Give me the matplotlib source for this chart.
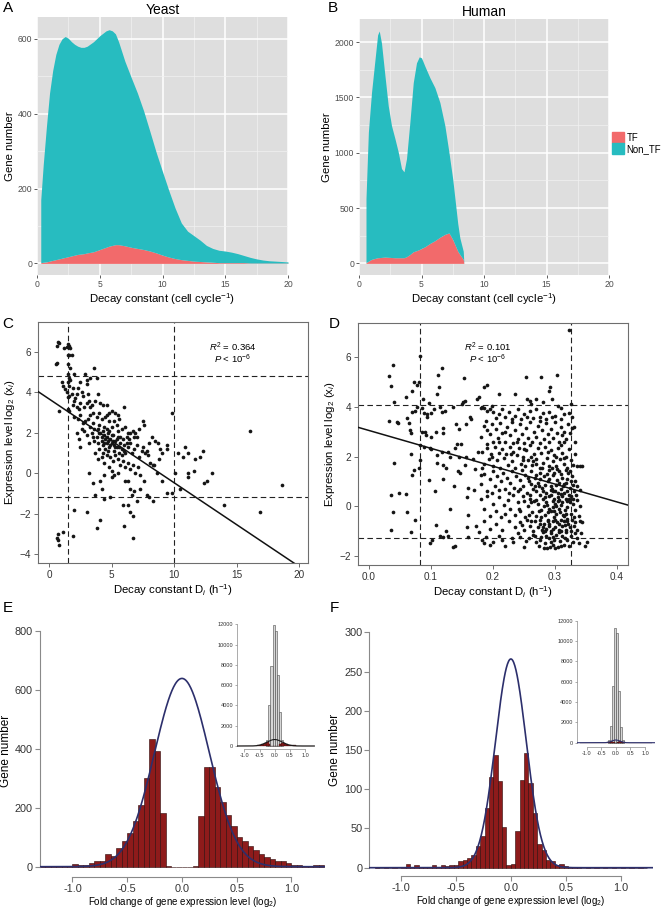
import numpy as np
import matplotlib
matplotlib.use("Agg")
import matplotlib.pyplot as plt
from matplotlib.patches import Patch

plt.rcParams['font.family'] = ['Liberation Sans', 'DejaVu Sans']
plt.rcParams['mathtext.fontset'] = 'custom'
plt.rcParams['mathtext.rm'] = 'Liberation Sans'
plt.rcParams['mathtext.it'] = 'Liberation Sans:italic'

W, H = 663, 908
TEAL = '#27BCC0'
RED = '#F26A6B'
PANEL = '#DEDEDE'
BAR_RED = '#8E1B1B'
NAVY = '#2C2F6C'

# ---------------- A / B : stacked densities ----------------
yeast_x = [0.3, 0.5, 0.75, 1.0, 1.25, 1.5, 1.75, 2.0, 2.25, 2.5, 2.75, 3.0, 3.25, 3.5, 3.75, 4.0,
           4.5, 5.0, 5.5, 5.75, 6.0, 6.25, 6.5, 7.0, 7.5, 8.0, 8.5, 9.0, 9.5, 10.0, 10.5, 11.0,
           11.5, 12.0, 12.5, 13.0, 13.5, 14.0, 14.5, 15.0, 15.5, 16.0, 16.5, 17.0, 17.5, 18.0,
           18.5, 19.0, 19.5, 20.0]
yeast_total = [170, 265, 365, 455, 515, 558, 585, 600, 606, 601, 592, 585, 580, 577, 577, 580,
               592, 608, 621, 624, 621, 613, 592, 540, 497, 455, 407, 352, 296, 245, 195, 148,
               108, 86, 74, 62, 48, 40, 35, 33, 30, 26, 21, 16, 12, 9, 7, 6, 5, 4]
yeast_tf = [2, 3, 4, 6, 8, 10, 12, 14, 16, 18, 20, 22, 24, 25, 26, 28,
            31, 37, 43, 46, 48, 50, 50, 47, 43, 40, 37, 33, 28, 22, 17, 13,
            10, 8, 6, 5, 4, 3, 2, 2, 2, 2, 2, 1, 1, 1, 1, 1, 1, 1]

human_x = [0.56, 0.75, 1.0, 1.28, 1.49, 1.62, 1.8, 2.08, 2.34, 2.6, 2.88, 3.14, 3.4, 3.6, 3.8,
           4.07, 4.34, 4.6, 4.82, 5.0, 5.27, 5.67, 6.07, 6.47, 6.87, 7.2, 7.5, 7.9, 8.07, 8.34, 8.39]
human_total = [587, 1185, 1543, 1842, 2065, 2100, 1990, 1692, 1424, 1245, 1125, 1006, 857, 827, 946,
               1275, 1633, 1812, 1866, 1857, 1782, 1678, 1588, 1454, 1245, 1000, 760, 360, 230, 110, 0]
human_tf = [6, 20, 36, 45, 51, 52, 54, 57, 55, 53, 51, 51, 51, 51, 60,
            80, 105, 115, 125, 135, 150, 180, 205, 236, 262, 275, 215, 110, 80, 36, 0]

# ---------------- C / D : scatter ----------------
c_points = [
    (0.6, 6.3), (0.7, 6.5), (0.8, 6.45), (0.55, 5.4), (0.6, 5.45), (1.2, 6.2), (1.4, 6.25), (1.5, 6.4),
    (1.6, 6.3), (1.7, 6.2), (1.5, 5.85), (1.6, 5.85), (1.8, 5.85), (1.5, 5.4), (1.7, 5.2), (1.5, 4.9),
    (1.6, 4.7), (1.7, 4.6), (1.5, 4.5), (1.6, 4.3), (1.0, 4.5), (1.1, 4.3), (1.3, 4.15), (1.4, 4.0),
    (1.6, 3.8), (1.5, 3.75), (1.8, 3.9), (1.9, 4.2), (0.8, 3.1), (1.5, 3.2), (1.6, 3.1), (1.9, 3.4),
    (2.0, 3.6), (2.1, 3.7), (2.2, 3.9), (2.3, 4.2), (2.5, 4.5), (2.6, 4.0), (2.9, 4.9), (3.0, 4.4),
    (3.0, 4.6), (3.6, 5.2), (3.8, 4.7), (3.3, 4.7), (2.0, 4.9), (2.2, 3.3), (2.4, 3.2), (2.5, 3.5),
    (2.7, 3.8), (2.8, 3.3), (3.0, 3.5), (3.1, 3.9), (3.2, 3.6), (3.4, 3.4), (3.5, 3.0), (3.7, 3.6),
    (3.9, 3.9), (4.1, 3.5), (4.3, 3.4), (4.6, 3.4), (4.8, 3.0), (5.0, 3.1), (5.3, 3.0), (5.5, 2.9),
    (6.0, 3.3), (2.0, 2.8), (2.3, 2.7), (2.5, 2.9), (2.7, 2.5), (2.9, 2.6), (3.1, 2.7), (3.3, 2.9),
    (3.5, 2.5), (3.6, 2.2), (3.8, 2.8), (4.0, 2.4), (4.2, 2.7), (4.4, 2.3), (4.6, 2.9), (4.8, 2.6),
    (5.0, 2.3), (5.2, 2.6), (5.4, 2.4), (5.6, 2.7), (5.8, 2.2), (6.1, 2.3), (6.3, 2.0), (2.2, 2.0),
    (2.4, 1.7), (2.5, 1.3), (2.6, 2.2), (2.8, 2.1), (3.0, 1.9), (3.2, 1.5), (3.4, 2.0), (3.6, 1.6),
    (3.8, 1.8), (3.9, 1.5), (4.0, 1.2), (4.1, 2.0), (4.2, 1.6), (4.3, 1.4), (4.4, 1.9), (4.5, 1.7),
    (4.5, 1.2), (4.6, 1.5), (4.7, 2.0), (4.8, 1.3), (4.9, 1.7), (5.0, 1.5), (5.1, 1.9), (5.2, 1.1),
    (5.3, 1.6), (5.4, 1.3), (5.5, 1.8), (5.6, 1.0), (5.7, 1.5), (5.8, 1.2), (5.9, 1.7), (6.0, 1.4),
    (6.1, 1.0), (6.2, 1.8), (6.3, 1.3), (6.5, 1.5), (6.6, 1.0), (6.8, 1.2), (7.0, 1.4), (7.2, 0.8),
    (7.4, 1.1), (7.5, 1.3), (7.7, 1.0), (7.9, 0.9), (8.1, 0.5), (8.3, 0.4), (8.2, 1.8), (8.5, 1.6),
    (7.5, 2.6), (7.6, 2.4), (7.2, 2.2), (6.9, 2.0), (6.7, 2.1), (6.5, 2.0), (6.8, 1.8), (3.7, 1.0),
    (3.9, 0.7), (4.2, 0.8), (4.4, 0.5), (4.6, 0.9), (4.9, 0.8), (5.1, 0.6), (5.3, 0.9), (5.5, 0.7),
    (5.7, 0.4), (5.9, 0.6), (6.1, 0.3), (6.3, 0.5), (6.5, 0.2), (6.7, 0.4), (6.9, 0.0), (7.1, 0.3),
    (7.3, -0.1), (5.0, 0.1), (5.2, -0.1), (5.5, 0.0), (3.2, 0.0), (3.5, -0.5), (4.1, -0.4), (4.4, -0.1),
    (4.8, 0.3), (5.0, -0.2), (6.3, -0.4), (6.5, -0.8), (6.6, -1.1), (6.8, -0.9), (7.0, -1.4), (7.3, -0.8),
    (7.6, -0.4), (7.8, -1.1), (8.0, -1.2), (8.3, -1.4), (6.1, -0.4), (6.3, -1.6), (6.5, -1.9), (6.7, -2.1),
    (6.7, -3.2), (6.0, -2.6), (4.1, -2.3), (3.8, -2.7), (3.0, -1.9), (2.0, -1.8), (1.9, -3.1), (1.1, -2.9),
    (0.6, -3.2), (0.7, -3.0), (0.75, -3.3), (0.8, -3.55), (3.7, -1.1), (4.4, -1.3), (4.2, -0.8), (4.9, -1.2),
    (5.9, -1.6), (9.0, -0.4), (9.4, -1.0), (9.8, -1.0), (9.4, 1.4), (9.4, 1.2), (9.8, 3.0), (10.1, 0.0),
    (10.3, 1.0), (10.5, -0.8), (10.7, 0.8), (10.9, 1.3), (11.1, 1.0), (11.1, 0.0), (11.1, -0.2), (11.6, 0.1),
    (11.7, 0.7), (12.1, 0.8), (12.3, 1.1), (12.4, -0.5), (12.6, -0.4), (13.0, 0.0), (14.0, -1.6), (16.1, 2.1),
    (16.9, -1.9), (18.6, -0.6), (8.4, 0.4), (8.6, 0.0), (8.8, 0.7), (9.0, 1.0), (8.7, 1.5), (8.9, 1.2),
    (8.0, 1.5), (7.8, 1.1), (3.3, 3.3), (4.0, 3.0), (4.5, 2.8), (4.0, 2.0), (4.3, 1.0), (5.8, 0.9),
    (6.0, 1.1), (4.7, 1.1), (5.3, 1.3), (4.6, 2.2), (5.0, 1.9), (5.5, 2.1), (6.2, 1.5), (7.0, 1.8),
    (4.2, 1.8), (4.6, 1.8), (4.9, 1.4), (5.1, 1.6), (5.4, 1.7), (4.4, 1.5), (4.7, 1.6), (5.2, 1.4),
    (4.3, 2.1), (4.8, 2.1), (5.7, 1.8), (3.9, 2.2), (3.5, 1.8), (5.6, 1.3), (6.4, 1.7), (3.3, 2.3),
]
c_x = [p[0] for p in c_points]
c_y = [p[1] for p in c_points]
c_slope, c_intercept = -0.415, 3.68
c_vlines = [1.5, 10.0]
c_hlines = [4.8, -1.2]

d_points = [
    # sparse left part
    (0.033, 5.25), (0.035, 4.85), (0.038, 5.7), (0.04, 4.2), (0.032, 3.45), (0.045, 3.4), (0.046, 3.35),
    (0.04, 1.75), (0.035, 0.45), (0.048, 0.55), (0.06, 0.5), (0.038, -0.25), (0.062, -0.25), (0.035, -0.95),
    (0.068, -1.05), (0.07, 1.25), (0.068, 2.1), (0.072, 1.45), (0.075, -0.55), (0.06, 4.4), (0.062, 3.55),
    (0.065, 3.35), (0.066, 3.05), (0.068, 2.95), (0.069, 3.8), (0.07, 4.65), (0.072, 5.0), (0.078, 4.9),
    (0.08, 5.0), (0.082, 6.05), (0.075, 3.85), (0.078, 4.0), (0.085, 3.95), (0.087, 4.3), (0.085, 3.0),
    (0.088, 2.4), (0.082, 2.45), (0.083, 1.85), (0.081, 1.55), (0.09, 3.0), (0.092, 2.85), (0.094, 3.7),
    (0.096, 4.15), (0.1, 3.75), (0.1, 2.3), (0.098, 2.35), (0.097, 1.05), (0.102, -1.35), (0.098, -1.5),
    (0.106, 0.6), (0.109, 1.75), (0.11, 2.05), (0.108, 3.0), (0.105, 3.9), (0.11, 4.5), (0.112, 5.3),
    (0.113, 4.8), (0.117, 5.55), (0.115, 4.0), (0.118, 3.8), (0.12, 3.15), (0.122, 3.85), (0.12, 2.95),
    (0.119, 1.65), (0.117, 2.2), (0.125, 1.55), (0.128, 2.2), (0.13, 2.0), (0.13, -0.1), (0.125, -1.0),
    (0.12, -1.25), (0.127, -1.2), (0.108, -0.75), (0.115, -1.2), (0.135, 4.0), (0.14, 3.3), (0.138, 2.35),
    (0.142, 2.5), (0.145, 3.1), (0.144, 1.4), (0.147, 1.35), (0.137, 0.8), (0.136, -1.65), (0.139, -1.6),
    (0.148, 2.5), (0.15, 4.1), (0.152, 4.2), (0.153, 5.15), (0.155, 4.25), (0.156, 2.0), (0.157, 3.3),
    (0.16, 0.75), (0.158, 0.35), (0.159, -0.35), (0.158, -0.85), (0.16, -1.25), (0.163, 3.6), (0.165, 3.5),
    (0.168, 1.9), (0.17, 0.65), (0.172, -0.8), (0.174, 4.3), (0.177, 4.4), (0.18, 3.95), (0.183, 4.0),
    (0.185, 4.8), (0.18, 1.25), (0.182, 1.55), (0.178, -1.05), (0.185, -1.5), (0.183, -1.35), (0.12, 1.1),
    (0.1, 2.8), (0.145, 2.0), (0.155, 1.65), (0.171, 1.5), (0.176, 2.2), (0.088, 3.75), (0.093, 3.6),
    # dense right part, y > 3.5
    (0.253, 5.2), (0.278, 5.2), (0.303, 5.3), (0.292, 4.8), (0.19, 4.9), (0.21, 4.5), (0.235, 4.5),
    (0.323, 7.1), (0.29, 4.65), (0.325, 4.1), (0.27, 4.3), (0.28, 4.2), (0.26, 4.25), (0.255, 4.3),
    (0.295, 4.3), (0.185, 3.95), (0.19, 3.85), (0.195, 3.9), (0.2, 3.8), (0.205, 3.55), (0.21, 3.7),
    (0.215, 3.9), (0.22, 3.6), (0.225, 3.8), (0.23, 3.5), (0.235, 3.65), (0.24, 3.9), (0.245, 3.5),
    (0.25, 3.7), (0.255, 3.6), (0.26, 3.85), (0.265, 3.55), (0.27, 3.9), (0.275, 3.6), (0.28, 3.75),
    (0.285, 3.5), (0.29, 3.8), (0.295, 3.6), (0.3, 3.65), (0.31, 3.5), (0.315, 3.7), (0.322, 3.75),
    (0.328, 3.6), (0.198, 4.05), (0.262, 4.1), (0.305, 4.05), (0.31, 3.95),
    # 2.5 .. 3.5
    (0.18, 2.8), (0.185, 3.25), (0.19, 3.05), (0.195, 2.9), (0.198, 3.3), (0.2, 2.6), (0.205, 3.1),
    (0.208, 2.75), (0.212, 3.35), (0.215, 2.95), (0.22, 2.6), (0.222, 3.2), (0.227, 2.85), (0.23, 3.4),
    (0.232, 2.55), (0.236, 3.05), (0.24, 2.7), (0.243, 3.3), (0.247, 2.9), (0.25, 2.55), (0.253, 3.15),
    (0.257, 2.75), (0.26, 3.4), (0.263, 2.6), (0.266, 3.0), (0.27, 2.8), (0.273, 3.25), (0.276, 2.55),
    (0.279, 3.05), (0.282, 2.7), (0.285, 3.35), (0.288, 2.9), (0.291, 2.6), (0.294, 3.1), (0.297, 2.75),
    (0.3, 3.4), (0.303, 2.95), (0.306, 2.6), (0.309, 3.2), (0.312, 2.85), (0.315, 3.0), (0.318, 2.7),
    (0.321, 3.3), (0.324, 2.95), (0.327, 3.15), (0.33, 3.2), (0.333, 2.6), (0.19, 2.5), (0.275, 3.45),
    # 1.5 .. 2.5
    (0.182, 2.2), (0.186, 1.7), (0.19, 2.35), (0.194, 1.9), (0.197, 2.1), (0.2, 1.6), (0.203, 2.4),
    (0.206, 1.85), (0.209, 2.15), (0.212, 1.55), (0.215, 2.3), (0.218, 1.95), (0.221, 2.1), (0.224, 1.65),
    (0.227, 2.4), (0.23, 1.8), (0.233, 2.2), (0.236, 1.55), (0.239, 2.05), (0.242, 2.35), (0.245, 1.7),
    (0.248, 2.0), (0.251, 1.6), (0.254, 2.25), (0.257, 1.85), (0.26, 2.45), (0.263, 1.65), (0.266, 2.1),
    (0.269, 1.9), (0.272, 2.35), (0.275, 1.55), (0.278, 2.15), (0.281, 1.75), (0.284, 2.4), (0.287, 1.95),
    (0.29, 1.6), (0.293, 2.25), (0.296, 1.8), (0.299, 2.05), (0.302, 1.6), (0.305, 2.35), (0.308, 1.9),
    (0.311, 2.15), (0.314, 1.7), (0.317, 2.0), (0.32, 1.55), (0.323, 2.3), (0.326, 1.85), (0.329, 1.65),
    (0.332, 2.1), (0.336, 1.6), (0.341, 1.6), (0.262, 2.0), (0.288, 2.2), (0.295, 1.55), (0.302, 2.0),
    (0.27, 1.7), (0.31, 2.45), (0.25, 2.3), (0.315, 1.95),
    # 0.5 .. 1.5
    (0.18, 0.9), (0.185, 1.3), (0.19, 0.6), (0.195, 1.1), (0.198, 0.55), (0.2, 1.4), (0.204, 0.8),
    (0.207, 1.2), (0.21, 0.65), (0.213, 1.0), (0.216, 1.35), (0.219, 0.7), (0.222, 1.15), (0.225, 0.55),
    (0.228, 0.95), (0.231, 1.4), (0.234, 0.75), (0.237, 1.2), (0.24, 0.6), (0.243, 1.05), (0.246, 1.45),
    (0.249, 0.8), (0.252, 1.25), (0.255, 0.55), (0.258, 1.0), (0.261, 1.4), (0.264, 0.7), (0.267, 1.15),
    (0.27, 0.6), (0.273, 0.95), (0.276, 1.35), (0.279, 0.75), (0.282, 1.2), (0.285, 0.55), (0.288, 1.0),
    (0.291, 1.45), (0.294, 0.8), (0.297, 1.25), (0.3, 0.6), (0.303, 1.05), (0.306, 1.4), (0.309, 0.7),
    (0.312, 1.15), (0.315, 0.55), (0.318, 0.95), (0.321, 1.35), (0.324, 0.75), (0.327, 1.2), (0.33, 0.6),
    (0.333, 1.0), (0.336, 0.8), (0.34, 0.65), (0.343, 1.6), (0.262, 0.9), (0.275, 1.1), (0.284, 0.85),
    (0.29, 1.1), (0.296, 0.6), (0.302, 0.85), (0.307, 0.95), (0.313, 0.8), (0.319, 0.6), (0.325, 1.0),
    (0.268, 0.8), (0.28, 0.6), (0.299, 1.35), (0.31, 1.3), (0.32, 1.1), (0.244, 0.7), (0.256, 1.15),
    (0.287, 1.3), (0.293, 0.65), (0.305, 0.55), (0.317, 1.45), (0.329, 0.85),
    # -0.5 .. 0.5
    (0.18, 0.3), (0.185, -0.1), (0.19, 0.4), (0.195, -0.4), (0.2, 0.1), (0.205, -0.2), (0.21, 0.35),
    (0.213, -0.45), (0.217, 0.05), (0.22, -0.3), (0.224, 0.25), (0.228, -0.1), (0.232, 0.45), (0.236, -0.35),
    (0.24, 0.15), (0.244, -0.2), (0.248, 0.4), (0.252, -0.45), (0.256, 0.0), (0.26, 0.3), (0.263, -0.25),
    (0.266, 0.2), (0.269, -0.4), (0.272, 0.1), (0.275, 0.45), (0.278, -0.15), (0.281, 0.3), (0.284, -0.35),
    (0.287, 0.05), (0.29, 0.4), (0.293, -0.2), (0.296, 0.2), (0.299, -0.45), (0.302, 0.0), (0.305, 0.35),
    (0.308, -0.25), (0.311, 0.15), (0.314, -0.4), (0.317, 0.3), (0.32, -0.05), (0.323, 0.45), (0.326, -0.3),
    (0.329, 0.1), (0.332, -0.15), (0.335, 0.25), (0.338, -0.4), (0.341, 0.0), (0.27, 0.25), (0.282, 0.0),
    (0.288, -0.25), (0.294, 0.45), (0.3, 0.1), (0.306, -0.1), (0.312, 0.4), (0.318, -0.3), (0.324, 0.15),
    (0.33, -0.45), (0.296, -0.05), (0.284, 0.35), (0.278, -0.45), (0.31, 0.05), (0.316, -0.15), (0.322, 0.3),
    (0.298, 0.3), (0.302, -0.3), (0.29, -0.1), (0.274, -0.2), (0.262, 0.15), (0.258, -0.35), (0.25, 0.2),
    (0.242, -0.1), (0.307, 0.25), (0.313, -0.35), (0.319, 0.2),
    # -1.0 .. -0.5
    (0.185, -0.6), (0.195, -0.9), (0.205, -0.7), (0.215, -0.95), (0.225, -0.6), (0.235, -0.85), (0.243, -0.65),
    (0.25, -0.95), (0.255, -0.55), (0.26, -0.8), (0.265, -1.0), (0.268, -0.6), (0.272, -0.85), (0.276, -0.55),
    (0.279, -0.95), (0.282, -0.7), (0.285, -0.9), (0.288, -0.55), (0.291, -0.8), (0.294, -1.0), (0.297, -0.6),
    (0.3, -0.85), (0.303, -0.65), (0.306, -0.95), (0.309, -0.55), (0.312, -0.8), (0.315, -0.6), (0.318, -0.95),
    (0.321, -0.7), (0.324, -0.85), (0.327, -0.55), (0.33, -0.8), (0.333, -0.65), (0.336, -0.95), (0.34, -0.6),
    (0.343, -0.65), (0.29, -0.7), (0.3, -0.55), (0.31, -1.0), (0.32, -0.5), (0.28, -0.85), (0.296, -0.9),
    (0.306, -0.7), (0.316, -0.75), (0.326, -1.0), (0.275, -0.7), (0.262, -0.6), (0.246, -0.75),
    # -1.7 .. -1.0
    (0.188, -1.25), (0.2, -1.45), (0.21, -1.2), (0.22, -1.6), (0.23, -1.3), (0.24, -1.1), (0.25, -1.65),
    (0.258, -1.3), (0.264, -1.15), (0.27, -1.45), (0.274, -1.6), (0.278, -1.25), (0.281, -1.05), (0.284, -1.5),
    (0.287, -1.7), (0.29, -1.3), (0.293, -1.1), (0.296, -1.55), (0.299, -1.35), (0.302, -1.15), (0.305, -1.65),
    (0.308, -1.4), (0.311, -1.2), (0.314, -1.55), (0.317, -1.05), (0.32, -1.35), (0.323, -1.6), (0.326, -1.2),
    (0.329, -1.45), (0.332, -1.1), (0.335, -1.3), (0.338, -1.5), (0.342, -1.1), (0.348, -1.6), (0.351, -1.45),
    (0.282, -1.7), (0.292, -1.65), (0.3, -1.7), (0.31, -1.6), (0.276, -1.35), (0.286, -1.2), (0.296, -1.25),
    (0.306, -1.05), (0.316, -1.3), (0.268, -1.2), (0.254, -1.4), (0.244, -1.25), (0.215, -1.35), (0.195, -1.55),
    (0.232, -1.45),
    # extra density in the core of the cloud
    (0.285, 0.15), (0.295, 0.7), (0.305, 0.2), (0.315, 0.9), (0.325, 0.4), (0.289, -0.6), (0.299, -0.2),
    (0.309, 0.5), (0.319, -0.6), (0.329, 0.3), (0.279, 1.55), (0.269, 1.25), (0.259, 0.45), (0.249, 1.85),
    (0.239, 2.6), (0.229, 2.1), (0.219, 3.0), (0.209, 2.6), (0.199, 2.0), (0.189, 3.45), (0.304, 1.5),
    (0.314, 2.6), (0.324, 1.4), (0.334, 0.45), (0.294, -1.45), (0.284, -1.0), (0.274, 0.8), (0.264, 1.8),
]
d_x = [p[0] for p in d_points]
d_y = [p[1] for p in d_points]
d_slope, d_intercept = -7.2, 3.05
d_vlines = [0.083, 0.325]
d_hlines = [4.06, -1.3]

# ---------------- E / F : histograms ----------------
e_bin_width = 0.05
e_bin_left = [-1.30, -1.25, -1.20, -1.15, -1.10, -1.05, -1.00, -0.95, -0.90, -0.85, -0.80, -0.75, -0.70,
              -0.65, -0.60, -0.55, -0.50, -0.45, -0.40, -0.35, -0.30, -0.25, -0.20, -0.15, -0.10, -0.05,
              0.00, 0.05, 0.10, 0.15, 0.20, 0.25, 0.30, 0.35, 0.40, 0.45, 0.50, 0.55, 0.60, 0.65, 0.70,
              0.75, 0.80, 0.85, 0.90, 0.95, 1.00, 1.05, 1.10, 1.15, 1.20, 1.25]
e_counts = [1, 1, 1, 1, 2, 4, 9, 7, 7, 13, 19, 19, 44,
            36, 62, 87, 115, 155, 209, 300, 432, 392, 183, 3, 0, 0,
            0, 0, 2, 172, 337, 337, 271, 218, 176, 138, 102, 88, 71, 57, 42,
            33, 26, 18, 20, 11, 7, 5, 4, 3, 5, 6]
e_fit_peak, e_fit_mu, e_fit_sd = 638, 0.0, 0.25

f_bin_width = 0.04
f_bin_left = [-1.24, -1.20, -1.16, -1.12, -1.08, -1.04, -1.00, -0.96, -0.92, -0.88, -0.84, -0.80, -0.76,
              -0.72, -0.68, -0.64, -0.60, -0.56, -0.52, -0.48, -0.44, -0.40, -0.36, -0.32, -0.28, -0.24,
              -0.20, -0.16, -0.12, -0.08, -0.04, 0.00, 0.04, 0.08, 0.12, 0.16, 0.20, 0.24, 0.28, 0.32,
              0.36, 0.40, 0.44, 0.48, 0.52, 0.56, 0.60, 0.64, 0.68, 0.72, 0.76, 0.80, 0.84, 0.88, 0.92,
              0.96, 1.00, 1.04, 1.08, 1.12, 1.16, 1.20]
f_counts = [1, 0, 1, 0, 1, 0, 1, 5, 1, 3, 1, 1, 1,
            3, 1, 4, 2, 3, 3, 8, 10, 12, 16, 28, 40, 76,
            115, 143, 110, 52, 3, 5, 47, 112, 146, 108, 70, 30, 22, 10,
            8, 3, 5, 2, 1, 1, 1, 0, 1, 0, 1, 0, 1, 0, 1,
            0, 1, 0, 1, 0, 1, 0]
f_fit_peak, f_fit_mu, f_fit_sd = 266, 0.0, 0.14

inset_bin_width = 0.07
inset_bin_left = [-0.28, -0.21, -0.14, -0.07, 0.00, 0.07, 0.14, 0.21]
e_inset_all = [600, 4000, 7900, 11900, 11300, 7000, 3400, 600]
f_inset_all = [300, 1600, 5600, 11300, 10800, 5100, 1500, 300]

fig = plt.figure(figsize=(W / 100, H / 100), dpi=100)


def px_axes(x0, y0, x1, y1):
    return fig.add_axes([x0 / W, 1 - y1 / H, (x1 - x0) / W, (y1 - y0) / H])


def px_text(x, y, s, **kw):
    fig.text(x / W, 1 - y / H, s, **kw)


def gg_panel(ax, x, total, tf, ymaj, ymin_, ylim, title):
    ax.set_facecolor(PANEL)
    ax.fill_between(x, 0, tf, color=RED, lw=0, zorder=2)
    ax.fill_between(x, tf, total, color=TEAL, lw=0, zorder=2)
    ax.set_xlim(0, 20)
    ax.set_ylim(*ylim)
    ax.set_xticks([0, 5, 10, 15, 20])
    ax.set_xticks([2.5, 7.5, 12.5, 17.5], minor=True)
    ax.set_yticks(ymaj)
    ax.set_yticks(ymin_, minor=True)
    ax.grid(which='major', color='white', lw=1.1)
    ax.grid(which='minor', color='#F2F2F2', lw=0.5)
    ax.set_axisbelow(True)
    for s in ax.spines.values():
        s.set_visible(False)
    ax.tick_params(which='major', length=2, width=0.6, color='#444444',
                   labelsize=6.2, labelcolor='#4D4D4D', pad=1.5)
    ax.tick_params(which='minor', length=0)
    ax.set_title(title, fontsize=10, pad=2)
    ax.set_xlabel('Decay constant (cell cycle$^{-1}$)', fontsize=8.2, labelpad=2)
    ax.set_ylabel('Gene number', fontsize=8.2, labelpad=2)


axa = px_axes(37, 17, 288, 275)
gg_panel(axa, yeast_x, yeast_total, yeast_tf, [0, 200, 400, 600], [100, 300, 500], (-31, 658), 'Yeast')
axb = px_axes(359, 19, 609, 275)
gg_panel(axb, human_x, human_total, human_tf, [0, 500, 1000, 1500, 2000], [250, 750, 1250, 1750],
         (-105, 2208), 'Human')
fig.legend([Patch(color=RED), Patch(color=TEAL)], ['TF', 'Non_TF'], loc='upper left',
           bbox_to_anchor=(612 / W, 1 - 132 / H), frameon=False, fontsize=6.9,
           handlelength=1.25, handleheight=1.35, labelspacing=0.05, handletextpad=0.25,
           borderaxespad=0, borderpad=0)


def scatter_panel(ax, x, y, slope, intercept, vlines, hlines, xlim, ylim):
    ax.scatter(x, y, s=7, c='#151515', lw=0, zorder=3)
    xs = np.array(xlim)
    ax.plot(xs, intercept + slope * xs, color='#111111', lw=1.1, zorder=4)
    for v in vlines:
        ax.axvline(v, color='#222222', lw=0.8, ls=(0, (5, 3)))
    for h in hlines:
        ax.axhline(h, color='#222222', lw=0.8, ls=(0, (5, 3)))
    ax.set_xlim(*xlim)
    ax.set_ylim(*ylim)
    for s in ax.spines.values():
        s.set_color('#6E6E6E')
        s.set_linewidth(0.8)
    ax.tick_params(length=3, width=0.6, color='#555555', labelsize=7.2, labelcolor='#333333', pad=2)
    ax.set_xlabel('Decay constant D$_i$ (h$^{-1}$)', fontsize=8.2, labelpad=1.5)


axc = px_axes(38, 322, 308, 563)
scatter_panel(axc, c_x, c_y, c_slope, c_intercept, c_vlines, c_hlines, (-0.88, 20.72), (-4.45, 7.49))
axc.set_xticks([0, 5, 10, 15, 20])
axc.set_yticks([-4, -2, 0, 2, 4, 6])
axc.set_ylabel('Expression level log$_2$ (x$_i$)', fontsize=8.2, labelpad=2)

axd = px_axes(358, 323, 628, 565)
scatter_panel(axd, d_x, d_y, d_slope, d_intercept, d_vlines, d_hlines, (-0.0177, 0.4177), (-2.37, 7.38))
axd.set_xticks([0.0, 0.1, 0.2, 0.3, 0.4])
axd.set_xticklabels(['0.0', '0.1', '0.2', '0.3', '0.4'])
axd.set_yticks([-2, 0, 2, 4, 6])
axd.set_ylabel('Expression level log$_2$ (x$_i$)', fontsize=8.2, labelpad=2)

px_text(233, 347, '$R^2$ = 0.364', ha='center', va='center', fontsize=6.8)
px_text(233, 359, '$P$ < 10$^{-6}$', ha='center', va='center', fontsize=6.8)
px_text(488, 347, '$R^2$ = 0.101', ha='center', va='center', fontsize=6.8)
px_text(488, 359, '$P$ < 10$^{-6}$', ha='center', va='center', fontsize=6.8)


def r_axes_style(ax, xb, yb, labelsize, ticklen, lw):
    for side in ('top', 'right'):
        ax.spines[side].set_visible(False)
    ax.spines['left'].set_bounds(*yb)
    ax.spines['bottom'].set_bounds(*xb)
    for side in ('left', 'bottom'):
        ax.spines[side].set_color('#8A8A8A')
        ax.spines[side].set_linewidth(lw)
    ax.tick_params(length=ticklen, width=lw, color='#8A8A8A', labelsize=labelsize,
                   labelcolor='#333333', pad=1.5)


def hist_panel(ax, left, counts, width, peak, mu, sd, xlim, ylim, yticks):
    ax.bar(left, counts, width=width, align='edge', color=BAR_RED, edgecolor='#2B0808', lw=0.4, zorder=2)
    xs = np.linspace(xlim[0], xlim[1], 500)
    ax.plot(xs, peak * np.exp(-0.5 * ((xs - mu) / sd) ** 2), color=NAVY, lw=1.2, zorder=3)
    ax.set_xlim(*xlim)
    ax.set_ylim(*ylim)
    ax.set_xticks([-1.0, -0.5, 0.0, 0.5, 1.0])
    ax.set_xticklabels(['-1.0', '-0.5', '0.0', '0.5', '1.0'])
    ax.set_yticks(yticks)
    r_axes_style(ax, (-1, 1), (yticks[0], yticks[-1]), 7.8, 3.5, 0.8)
    ax.set_xlabel('Fold change of gene expression level (log$_2$)', fontsize=7, labelpad=1)
    ax.set_ylabel('Gene number', fontsize=8.5, labelpad=2)


def inset_panel(ax, all_counts, left, counts, width, peak, mu, sd, xlim, ylim, curve_color):
    ax.patch.set_alpha(0)
    ax.bar(inset_bin_left, all_counts, width=inset_bin_width, align='edge', color='#D6D6D6',
           edgecolor='#4A4A4A', lw=0.4, zorder=2)
    ax.bar(left, counts, width=width, align='edge', color=BAR_RED, edgecolor='#2B0808', lw=0.2, zorder=3)
    xs = np.linspace(xlim[0], xlim[1], 300)
    ax.plot(xs, peak * np.exp(-0.5 * ((xs - mu) / sd) ** 2), color=curve_color, lw=0.8, zorder=4)
    ax.set_xlim(*xlim)
    ax.set_ylim(*ylim)
    ax.set_xticks([-1.0, -0.5, 0.0, 0.5, 1.0])
    ax.set_xticklabels(['-1.0', '-0.5', '0.0', '0.5', '1.0'])
    ax.set_yticks([0, 2000, 4000, 6000, 8000, 10000, 12000])
    r_axes_style(ax, (-1, 1), (0, 12000), 4.0, 1.8, 0.5)
    ax.tick_params(pad=1)


axe = px_axes(39.6, 625, 325.4, 876.7)
hist_panel(axe, e_bin_left, e_counts, e_bin_width, e_fit_peak, e_fit_mu, e_fit_sd,
           (-1.30, 1.31), (-33.9, 819), [0, 200, 400, 600, 800])
axei = px_axes(237, 620, 315, 749.3)
inset_panel(axei, e_inset_all, e_bin_left, e_counts, e_bin_width, e_fit_peak, e_fit_mu, e_fit_sd,
            (-1.244, 1.33), (-325, 12424), '#1A1A1A')

axf = px_axes(369.3, 625, 653, 875.7)
hist_panel(axf, f_bin_left, f_counts, f_bin_width, f_fit_peak, f_fit_mu, f_fit_sd,
           (-1.29, 1.295), (-10.2, 309.3), [0, 50, 100, 150, 200, 250, 300])
axfi = px_axes(576.7, 616, 655, 746.7)
inset_panel(axfi, f_inset_all, f_bin_left, f_counts, f_bin_width, f_fit_peak, f_fit_mu, f_fit_sd,
            (-1.343, 1.343), (-393, 12462), NAVY)

for letter, x, y in [('A', 8, 8), ('B', 333, 8), ('C', 8, 324), ('D', 334, 324), ('E', 8, 608), ('F', 334, 608)]:
    px_text(x, y, letter, ha='center', va='center', fontsize=11)

fig.savefig('out.png', dpi=100)
